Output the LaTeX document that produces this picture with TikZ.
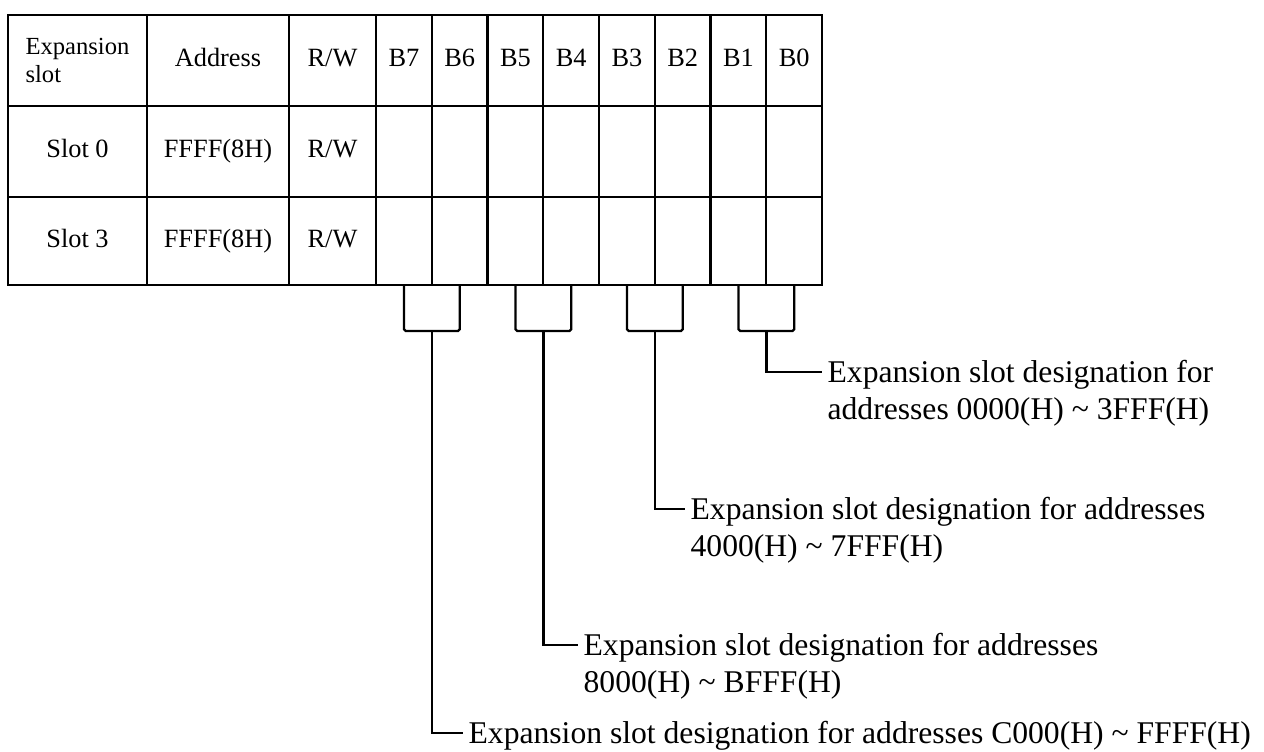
\documentclass[tikz,border=0pt]{standalone}
\usepackage{fontspec}
\setmainfont{Liberation Serif}
\usetikzlibrary{calc}
\newcommand{\bitx}[1]{404+55.75*(7-#1)}
\newcommand{\paire}[3]{\draw[trait,rounded corners=1pt] (b#1) --++ (0,46) -| (b#2);
	\coordinate (#3) at ($(b#1)!0.5!(b#2)+(0,46)$)}
\tikzset{trait/.style={line width=1.3pt},
	cell/.style={font=\fontsize{15}{16}\selectfont, inner sep=1pt, text height=10pt, text depth=3pt},
	txt/.style={font=\fontsize{18}{21}\selectfont, inner sep=3pt, text height=12pt, text depth=0pt}}

\begin{document}
\begin{tikzpicture}[x=0.02cm,y=-0.02cm]
	\useasboundingbox (0,0) rectangle (1264,751);
	\draw[trait] (8,15) rectangle (822,285);
	\draw[trait] (8,106) -- (822,106);
	\draw[trait] (8,197) -- (822,197);
	\draw[trait] (147,15) -- (147,285);
	\draw[trait] (289,15) -- (289,285);
	\foreach \k in {0,...,7} \draw[trait] ({376+55.75*\k},15) -- ({376+55.75*\k},285);
	\node[cell,align=left,font=\fontsize{14}{16}\selectfont,text height=,text depth=] (exp) at (77.5,60.5) {Expansion\\slot};
	\node[cell] (adr) at (218,60.5) {Address};
	\node[cell] (rw) at (332.5,60.5) {R/W};
	\foreach \n in {7,...,0} \node[cell] (h\n) at ({\bitx{\n}},60.5) {B\n};
	\node[cell] (s0) at (77.5,151.5) {Slot 0};
	\node[cell] (a0) at (218,151.5) {FFFF(8H)};
	\node[cell] (rw0) at (332.5,151.5) {R/W};
	\node[cell] (s3) at (77.5,241) {Slot 3};
	\node[cell] (a3) at (218,241) {FFFF(8H)};
	\node[cell] (rw3) at (332.5,241) {R/W};
	\foreach \n in {7,...,0} \coordinate (b\n) at ({\bitx{\n}},285);
	\paire{7}{6}{m4};
	\paire{5}{4}{m3};
	\paire{3}{2}{m2};
	\paire{1}{0}{m1};
	\node[txt,anchor=west] (t1) at (822,372) {Expansion slot designation for};
	\node[txt,anchor=base west] (t1b) at ([yshift=-21pt]t1.base west) {addresses 0000(H) \textasciitilde{} 3FFF(H)};
	\node[txt,anchor=west] (t2) at (685,509) {Expansion slot designation for addresses};
	\node[txt,anchor=base west] (t2b) at ([yshift=-21pt]t2.base west) {4000(H) \textasciitilde{} 7FFF(H)};
	\node[txt,anchor=west] (t3) at (578,645) {Expansion slot designation for addresses};
	\node[txt,anchor=base west] (t3b) at ([yshift=-21pt]t3.base west) {8000(H) \textasciitilde{} BFFF(H)};
	\node[txt,anchor=west] (t4) at (463,733) {Expansion slot designation for addresses C000(H) \textasciitilde{} FFFF(H)};
	\draw[trait] (m1) |- (t1.west);
	\draw[trait] (m2) |- (t2.west);
	\draw[trait] (m3) |- (t3.west);
	\draw[trait] (m4) |- (t4.west);
\end{tikzpicture}
\end{document}
